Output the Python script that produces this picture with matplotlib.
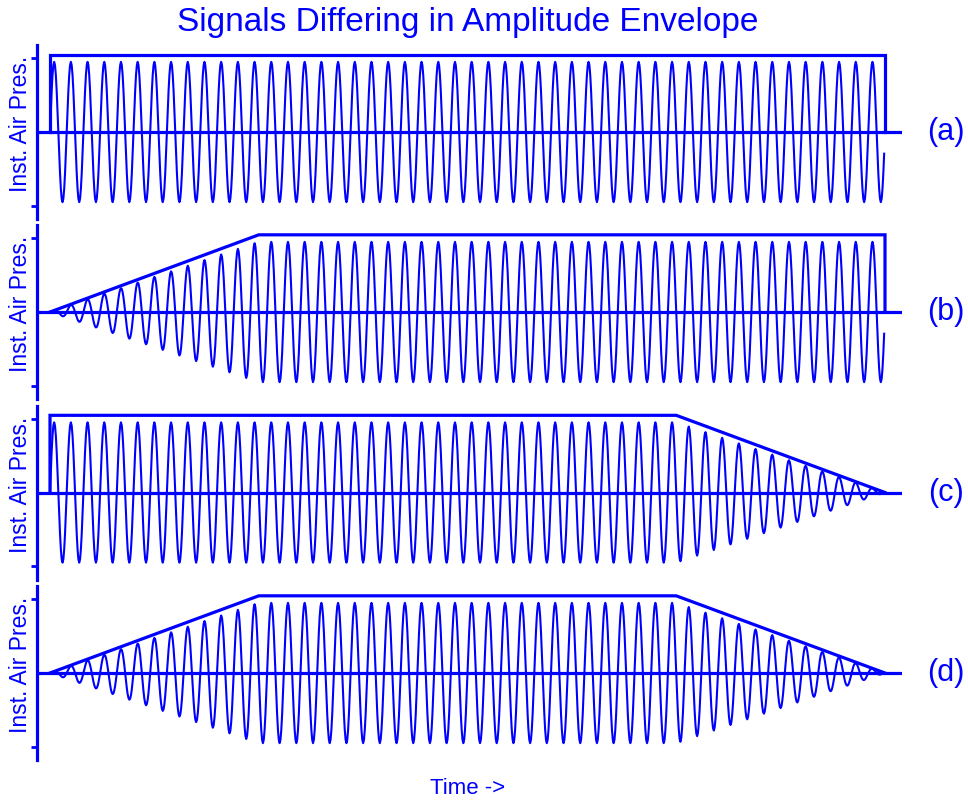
import numpy as np
import matplotlib
matplotlib.use("Agg")
import matplotlib.pyplot as plt

plt.rcParams['font.family'] = ['Liberation Sans', 'DejaVu Sans']

BLUE = '#0000ff'

# Signal parameters
freq_hz = 50          # carrier frequency
sample_rate = 1000    # samples per second
duration = 1.0        # seconds

# Envelope breakpoints (time, relative amplitude) for each panel
panel_labels = ['(a)', '(b)', '(c)', '(d)']
env_times = [
    [0.0, 0.0, 1.0, 1.0],
    [0.0, 0.25, 1.0, 1.0],
    [0.0, 0.0, 0.75, 1.0],
    [0.0, 0.25, 0.75, 1.0],
]
env_levels = [
    [0.0, 1.0, 1.0, 0.0],
    [0.0, 1.0, 1.0, 0.0],
    [0.0, 1.0, 1.0, 0.0],
    [0.0, 1.0, 1.0, 0.0],
]

env_scale = 1.1       # envelope outline drawn slightly above the waveform peaks
tick_level = 1.05
y_lim = 1.24

W, H = 968, 800
fig = plt.figure(figsize=(W / 100, H / 100), dpi=100)

t = np.arange(int(sample_rate * duration)) / sample_rate
carrier = np.sin(2 * np.pi * freq_hz * t)

left_px, right_px = 37, 902
panel_tops = [45, 225, 405.5, 586]
panel_h = 174

for label, et, el, top in zip(panel_labels, env_times, env_levels, panel_tops):
    ax = fig.add_axes([left_px / W, 1 - (top + panel_h) / H,
                       (right_px - left_px) / W, panel_h / H])
    env = np.interp(t, et, el)
    ax.plot(t, env * carrier, color=BLUE, lw=1.5)
    ax.plot(et, np.array(el) * env_scale, color=BLUE, lw=2.3,
            solid_joinstyle='miter')
    ax.axhline(0, color=BLUE, lw=2.3)
    ax.set_xlim(-13 / 835, 852 / 835)
    ax.set_ylim(-y_lim, y_lim)
    for s in ['top', 'right', 'bottom']:
        ax.spines[s].set_visible(False)
    ax.spines['left'].set_color(BLUE)
    ax.spines['left'].set_linewidth(2.3)
    ax.set_xticks([])
    ax.set_yticks([-tick_level, tick_level])
    ax.set_yticklabels([])
    ax.tick_params(axis='y', direction='out', length=4, width=2, color=BLUE)
    ax.patch.set_alpha(0)
    zero_y = top + panel_h / 2
    fig.text(946 / W, 1 - zero_y / H, label, color=BLUE, fontsize=22,
             ha='center', va='center')
    fig.text(21 / W, 1 - (zero_y - 8) / H, 'Inst. Air Pres.', color=BLUE,
             fontsize=16.5, rotation=90, ha='center', va='center')

fig.text(468 / W, 1 - 22 / H, 'Signals Differing in Amplitude Envelope',
         color=BLUE, fontsize=24, ha='center', va='center')
fig.text(468 / W, 1 - 789 / H, 'Time ->', color=BLUE, fontsize=16,
         ha='center', va='center')

fig.savefig('out.png', dpi=100, facecolor='white')
